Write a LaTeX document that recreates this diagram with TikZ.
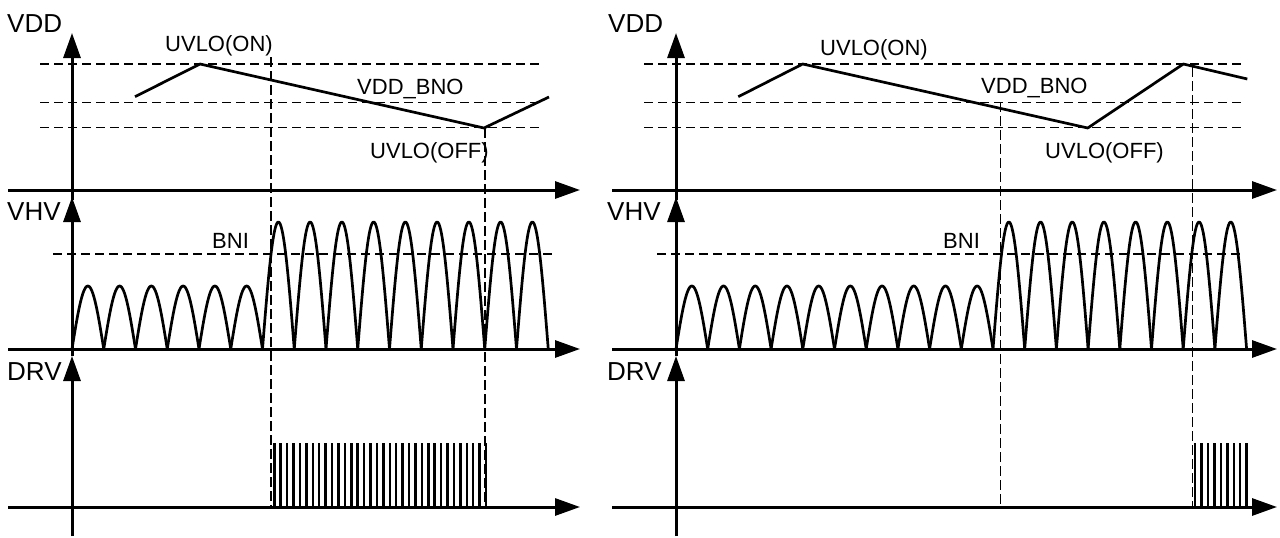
\documentclass[tikz,border=0pt]{standalone}
\usepackage{fontspec}
\setmainfont{Liberation Sans}
\usetikzlibrary{arrows.meta}
\begin{document}
\begin{tikzpicture}[x=1pt,y=-1pt,
  axis/.style={line width=3pt,-{Triangle[length=25pt,width=17pt]}},
  wave/.style={line width=2.7pt,line join=round},
  level/.style={line width=1.2pt,dash pattern=on 9pt off 5pt},
  marker/.style={line width=1.2pt,dash pattern=on 10pt off 4pt},
  pulse/.style={line width=2.5pt},
  axlabel/.style={inner sep=0pt,anchor=base west,font=\fontsize{26pt}{30pt}\selectfont},
  lbl/.style={inner sep=0pt,anchor=base west,font=\fontsize{22pt}{26pt}\selectfont}]
\useasboundingbox (0,0) rectangle (1280,538);

% ================= LEFT PANEL =================
\coordinate (LvddB) at (72,200);  \coordinate (LvddT) at (72,33);
\coordinate (LvhvB) at (72,356);  \coordinate (LvhvT) at (72,197);
\coordinate (LdrvB) at (72,536);  \coordinate (LdrvT) at (72,356);
\coordinate (LhA) at (8,190);   \coordinate (LhAe) at (580,190);
\coordinate (LhB) at (8,349);   \coordinate (LhBe) at (580,349);
\coordinate (LhC) at (8,507);   \coordinate (LhCe) at (580,507);

\coordinate (Lon0) at (40,64);     \coordinate (Lon1) at (543,64);
\coordinate (Lbno0) at (40,102.5); \coordinate (Lbno1) at (543,102.5);
\coordinate (Loff0) at (40,127.5); \coordinate (Loff1) at (543,127.5);
\coordinate (Lbni0) at (53,254);   \coordinate (Lbni1) at (555,254);
\draw[level] (Lon0) -- (Lon1);
\draw[level] (Lbno0) -- (Lbno1);
\draw[level] (Loff0) -- (Loff1);
\draw[level] (Lbni0) -- (Lbni1);

\coordinate (Lm1t) at (271,57);  \coordinate (Lm1b) at (271,507);
\coordinate (Lm2t) at (485,128); \coordinate (Lm2b) at (485,507);
\draw[marker] (Lm1t) -- (Lm1b);
\draw[marker] (Lm2t) -- (Lm2b);

\draw[axis] (LvddB) -- (LvddT);
\draw[axis] (LvhvB) -- (LvhvT);
\draw[axis] (LdrvB) -- (LdrvT);
\draw[axis] (LhA) -- (LhAe);
\draw[axis] (LhB) -- (LhBe);
\draw[axis] (LhC) -- (LhCe);

\coordinate (Lv0) at (135,96.7);
\coordinate (Lv1) at (200,64);
\coordinate (Lv2) at (484,128);
\coordinate (Lv3) at (549,97);
\draw[wave] (Lv0) -- (Lv1) -- (Lv2) -- (Lv3);

\foreach \i in {0,...,14}{
  \pgfmathsetmacro{\xo}{72+\i*31.75}
  \pgfmathsetmacro{\amp}{\i<6 ? 63 : 127}
  \draw[wave] plot[variable=\t,domain=0:180,samples=45]
     ({\xo+\t/180*31.75},{349-\amp*sin(\t)});
}

\foreach \i in {0,...,33}{
  \draw[pulse] ({274.3+\i*6.415},507) -- ({274.3+\i*6.415},443);
}

\node[axlabel] (LVDD) at (7,32) {VDD};
\node[axlabel] (LVHV) at (7,220) {VHV};
\node[axlabel] (LDRV) at (7,380) {DRV};
\node[lbl] (LON) at (165,51) {UVLO(ON)};
\node[lbl] (LBNO) at (357,94) {VDD\_BNO};
\node[lbl] (LOFF) at (370,158) {UVLO(OFF)};
\node[lbl] (LBNI) at (212,248) {BNI};

% ================= RIGHT PANEL =================
\coordinate (RvddB) at (676,200);  \coordinate (RvddT) at (676,33);
\coordinate (RvhvB) at (676,356);  \coordinate (RvhvT) at (676,197);
\coordinate (RdrvB) at (676,536);  \coordinate (RdrvT) at (676,356);
\coordinate (RhA) at (612,190);   \coordinate (RhAe) at (1277,190);
\coordinate (RhB) at (612,349);   \coordinate (RhBe) at (1277,349);
\coordinate (RhC) at (612,507);   \coordinate (RhCe) at (1277,507);

\coordinate (Ron0) at (644,64);     \coordinate (Ron1) at (1243,64);
\coordinate (Rbno0) at (644,102.5); \coordinate (Rbno1) at (1243,102.5);
\coordinate (Roff0) at (644,127.5); \coordinate (Roff1) at (1243,127.5);
\coordinate (Rbni0) at (657,254);   \coordinate (Rbni1) at (1243,254);
\draw[level] (Ron0) -- (Ron1);
\draw[level] (Rbno0) -- (Rbno1);
\draw[level] (Roff0) -- (Roff1);
\draw[level] (Rbni0) -- (Rbni1);

\coordinate (Rm1t) at (1000.7,102); \coordinate (Rm1b) at (1000.7,507);
\coordinate (Rm2t) at (1192.3,67);  \coordinate (Rm2b) at (1192.3,507);
\draw[marker] (Rm1t) -- (Rm1b);
\draw[marker] (Rm2t) -- (Rm2b);

\draw[axis] (RvddB) -- (RvddT);
\draw[axis] (RvhvB) -- (RvhvT);
\draw[axis] (RdrvB) -- (RdrvT);
\draw[axis] (RhA) -- (RhAe);
\draw[axis] (RhB) -- (RhBe);
\draw[axis] (RhC) -- (RhCe);

\coordinate (Rv0) at (738.3,96.7);
\coordinate (Rv1) at (802.7,64);
\coordinate (Rv2) at (1087.7,128);
\coordinate (Rv3) at (1183.3,64);
\coordinate (Rv4) at (1247.3,79);
\draw[wave] (Rv0) -- (Rv1) -- (Rv2) -- (Rv3) -- (Rv4);

\foreach \i in {0,...,17}{
  \pgfmathsetmacro{\xo}{676+\i*31.7}
  \pgfmathsetmacro{\amp}{\i<10 ? 63 : 127}
  \draw[wave] plot[variable=\t,domain=0:180,samples=45]
     ({\xo+\t/180*31.7},{349-\amp*sin(\t)});
}

\foreach \i in {0,...,8}{
  \draw[pulse] ({1195+\i*6.46},507) -- ({1195+\i*6.46},443);
}

\node[axlabel] (RVDD) at (608,32) {VDD};
\node[axlabel] (RVHV) at (607,220) {VHV};
\node[axlabel] (RDRV) at (607,380) {DRV};
\node[lbl] (RON) at (820,55) {UVLO(ON)};
\node[lbl] (RBNO) at (981,93) {VDD\_BNO};
\node[lbl] (ROFF) at (1045,158) {UVLO(OFF)};
\node[lbl] (RBNI) at (943,248) {BNI};
\end{tikzpicture}
\end{document}
